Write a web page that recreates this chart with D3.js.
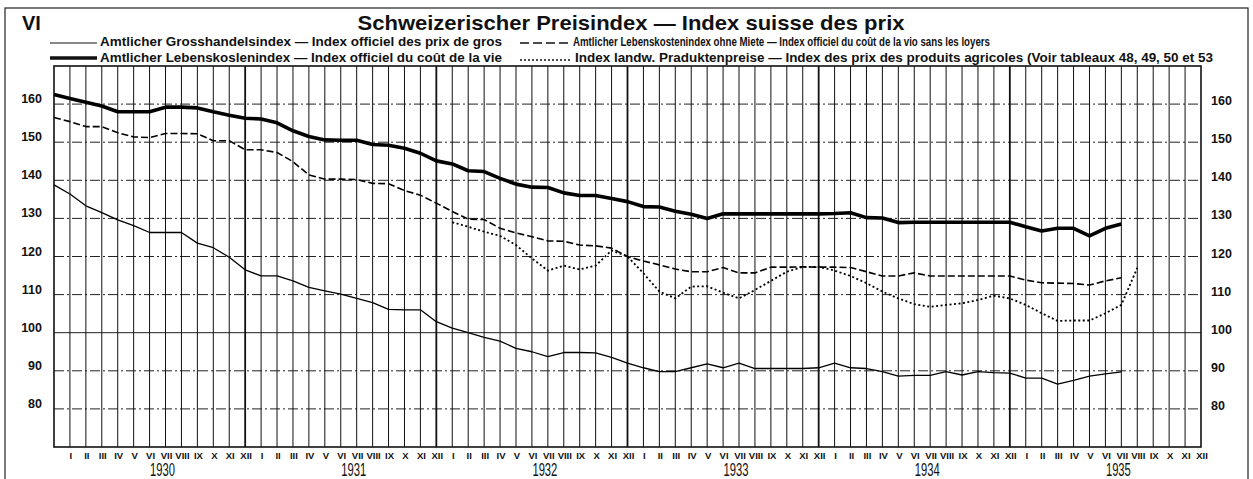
<!DOCTYPE html>
<html>
<head>
<meta charset="utf-8">
<script src="https://cdn.jsdelivr.net/npm/d3@7"></script>
<style>
  body { margin: 0; background: #fff; }
  svg { display: block; }
  text { fill: #111; }
</style>
</head>
<body>
<script>
// month index: 0 = Dec 1929, 1 = Jan 1930 ... 72 = Dec 1935
var romanMonths = ["I", "II", "III", "IV", "V", "VI", "VII", "VIII", "IX", "X", "XI", "XII"];
var years = ["1930", "1931", "1932", "1933", "1934", "1935"];
var yTicks = [80, 90, 100, 110, 120, 130, 140, 150, 160];

// Amtlicher Grosshandelsindex (from month 0)
var wholesale = [138.8, 136.4, 133.3, 131.5, 129.6, 128.1, 126.3, 126.3, 126.3, 123.5,
  122.3, 119.8, 116.5, 114.9, 114.9, 113.6, 111.9, 111.0, 110.1, 109.0,
  107.9, 106.1, 106.0, 106.0, 102.9, 101.2, 100.0, 98.8, 97.8, 95.9,
  95.0, 93.7, 94.8, 94.8, 94.7, 93.5, 92.0, 90.8, 89.8, 89.8,
  90.8, 91.8, 90.8, 92.0, 90.6, 90.6, 90.6, 90.6, 90.8, 92.0,
  90.8, 90.6, 89.8, 88.6, 88.8, 88.8, 89.8, 88.9, 89.8, 89.5,
  89.4, 88.1, 88.1, 86.5, 87.5, 88.6, 89.2, 89.7];

// Amtlicher Lebenskostenindex (from month 0)
var living = [162.5, 161.5, 160.5, 159.5, 158.0, 158.0, 158.0, 159.2, 159.2, 159.0,
  158.0, 157.1, 156.3, 156.1, 155.1, 153.0, 151.5, 150.6, 150.5, 150.5,
  149.4, 149.2, 148.4, 147.1, 145.1, 144.3, 142.5, 142.3, 140.5, 139.0,
  138.2, 138.1, 136.7, 136.0, 136.0, 135.2, 134.4, 133.1, 133.0, 131.9,
  131.1, 130.0, 131.2, 131.2, 131.2, 131.2, 131.2, 131.2, 131.2, 131.3,
  131.5, 130.2, 130.1, 128.9, 129.0, 129.0, 129.0, 129.0, 129.0, 129.0,
  129.0, 127.8, 126.7, 127.4, 127.4, 125.4, 127.4, 128.5];

// Lebenskostenindex ohne Miete (from month 0)
var livingNoRent = [156.5, 155.4, 154.1, 154.1, 152.5, 151.4, 151.2, 152.3, 152.3, 152.2,
  150.4, 150.4, 148.0, 148.0, 147.3, 144.9, 141.4, 140.3, 140.3, 140.2,
  139.2, 139.1, 137.3, 136.1, 134.0, 131.8, 129.8, 129.7, 127.4, 126.2,
  125.2, 124.1, 124.0, 123.0, 122.8, 122.2, 120.0, 118.8, 117.8, 116.7,
  116.0, 116.0, 117.1, 115.7, 115.7, 117.2, 117.2, 117.3, 117.2, 117.2,
  117.1, 116.0, 114.9, 114.9, 115.7, 114.9, 114.9, 114.9, 114.9, 114.9,
  114.9, 113.8, 113.1, 113.0, 112.9, 112.5, 113.6, 114.4];

// Index landw. Produktenpreise (from month 25 = Jan 1932)
var agriStart = 25;
var agri = [129.0, 127.8, 126.5, 125.4, 123.0, 119.5, 116.3, 117.6, 116.6, 117.6,
  121.6, 120.0, 115.6, 110.8, 109.0, 112.1, 112.2, 110.5, 109.0, 111.2,
  113.6, 116.0, 117.3, 117.3, 116.3, 114.9, 113.0, 110.8, 109.0, 107.5,
  106.8, 107.3, 107.7, 108.6, 109.7, 109.0, 107.3, 105.1, 103.1, 103.2,
  103.2, 105.1, 107.3, 117.0];

var width = 1253, height = 479;

var svg = d3.select("body")
  .append("svg")
  .attr("width", width)
  .attr("height", height);

// scales
var x = d3.scaleLinear().domain([0, 72]).range([54, 1201]);
var y = d3.scaleLinear().domain([70, 170]).range([447, 66]);

// outer frame
svg.append("rect")
  .attr("x", 5).attr("y", 8)
  .attr("width", 1243).attr("height", 490)
  .attr("fill", "none")
  .attr("stroke", "#222")
  .attr("stroke-width", 1.2);

// title
svg.append("text")
  .attr("x", 22).attr("y", 30)
  .style("font", "bold 20px 'Liberation Sans', Arial, sans-serif")
  .text("VI");

svg.append("text")
  .attr("x", 631).attr("y", 30)
  .attr("text-anchor", "middle")
  .attr("textLength", 547)
  .attr("lengthAdjust", "spacingAndGlyphs")
  .style("font", "bold 21px 'Liberation Sans', Arial, sans-serif")
  .text("Schweizerischer Preisindex \u2014 Index suisse des prix");

// legend
var legendFont = "bold 12px 'Liberation Sans', Arial, sans-serif";
var legend = [
  {x0: 50, x1: 97, y: 43, w: 1.2, dash: null, tx: 100, ty: 46, tl: 402,
   label: "Amtlicher Grosshandelsindex \u2014 Index officiel des prix de gros"},
  {x0: 50, x1: 97, y: 58, w: 3.5, dash: null, tx: 100, ty: 62, tl: 402,
   label: "Amtlicher Lebenskoslenindex \u2014 Index officiel du co\u00fbt de la vie"},
  {x0: 520, x1: 571, y: 43, w: 1.6, dash: "9,4", tx: 573, ty: 46, tl: 417,
   label: "Amtlicher Lebenskostenindex ohne Miete \u2014 Index officiel du co\u00fbt de la vio sans les loyers"},
  {x0: 520, x1: 571, y: 60, w: 1.6, dash: "2,2", tx: 575, ty: 62, tl: 638,
   label: "Index landw. Praduktenpreise \u2014 Index des prix des produits agricoles (Voir tableaux 48, 49, 50 et 53"}
];

legend.forEach(function(d){
  svg.append("line")
    .attr("x1", d.x0).attr("x2", d.x1)
    .attr("y1", d.y).attr("y2", d.y)
    .attr("stroke", "#111")
    .attr("stroke-width", d.w)
    .attr("stroke-dasharray", d.dash);
  svg.append("text")
    .attr("x", d.tx).attr("y", d.ty)
    .attr("textLength", d.tl)
    .attr("lengthAdjust", "spacingAndGlyphs")
    .style("font", legendFont)
    .text(d.label);
});

// grid
var grid = svg.append("g").attr("class", "grid");

grid.selectAll(".hgrid")
  .data(yTicks)
  .enter()
  .append("line")
  .attr("class", "hgrid")
  .attr("x1", x(0)).attr("x2", x(72))
  .attr("y1", function(d){ return y(d); })
  .attr("y2", function(d){ return y(d); })
  .attr("stroke", "#222")
  .attr("stroke-width", 1)
  .attr("stroke-dasharray", function(d){ return d == 100 ? null : "10,3,2,3"; });

grid.selectAll(".vgrid")
  .data(d3.range(1, 72))
  .enter()
  .append("line")
  .attr("class", "vgrid")
  .attr("x1", function(d){ return x(d); })
  .attr("x2", function(d){ return x(d); })
  .attr("y1", y(170)).attr("y2", y(70))
  .attr("stroke", "#111")
  .attr("stroke-width", function(d){ return d % 12 == 0 ? 1.8 : 1; });

// plot frame
svg.append("rect")
  .attr("x", x(0)).attr("y", y(170))
  .attr("width", x(72) - x(0))
  .attr("height", y(70) - y(170))
  .attr("fill", "none")
  .attr("stroke", "#111")
  .attr("stroke-width", 1.6);

// y labels, both sides
var yLabelFont = "bold 12.5px 'Liberation Sans', Arial, sans-serif";
svg.selectAll(".ylabL")
  .data(yTicks)
  .enter()
  .append("text")
  .attr("class", "ylabL")
  .attr("x", 42)
  .attr("y", function(d){ return y(d) - 1; })
  .attr("text-anchor", "end")
  .style("font", yLabelFont)
  .text(function(d){ return d; });

svg.selectAll(".ylabR")
  .data(yTicks)
  .enter()
  .append("text")
  .attr("class", "ylabR")
  .attr("x", 1211)
  .attr("y", function(d){ return y(d) + 1; })
  .style("font", yLabelFont)
  .text(function(d){ return d; });

// month labels
svg.selectAll(".mlab")
  .data(d3.range(1, 73))
  .enter()
  .append("text")
  .attr("class", "mlab")
  .attr("x", function(d){ return x(d) + 1; })
  .attr("y", 459)
  .attr("text-anchor", "middle")
  .style("font", "bold 9.5px 'Liberation Sans', Arial, sans-serif")
  .text(function(d){ return romanMonths[(d - 1) % 12]; });

// year labels
svg.selectAll(".ylab")
  .data(years)
  .enter()
  .append("text")
  .attr("class", "ylab")
  .attr("x", function(d, i){ return x(6.5 + 12 * i) + 5; })
  .attr("y", 476)
  .attr("text-anchor", "middle")
  .attr("textLength", 25)
  .attr("lengthAdjust", "spacingAndGlyphs")
  .style("font", "19px 'Liberation Sans', Arial, sans-serif")
  .text(function(d){ return d; });

// series lines
var line = d3.line()
  .x(function(d){ return x(d[0]); })
  .y(function(d){ return y(d[1]); });

function toPoints(values, start){
  return values.map(function(v, i){ return [start + i, v]; });
}

var series = [
  {data: toPoints(wholesale, 0), w: 1.3, dash: null},
  {data: toPoints(livingNoRent, 0), w: 1.6, dash: "7,3"},
  {data: toPoints(agri, agriStart), w: 1.8, dash: "2,2.5"},
  {data: toPoints(living, 0), w: 3.6, dash: null}
];

svg.selectAll(".series")
  .data(series)
  .enter()
  .append("path")
  .attr("class", "series")
  .attr("d", function(d){ return line(d.data); })
  .attr("fill", "none")
  .attr("stroke", "#000")
  .attr("stroke-width", function(d){ return d.w; })
  .attr("stroke-dasharray", function(d){ return d.dash; })
  .attr("stroke-linejoin", "round");
</script>
</body>
</html>
